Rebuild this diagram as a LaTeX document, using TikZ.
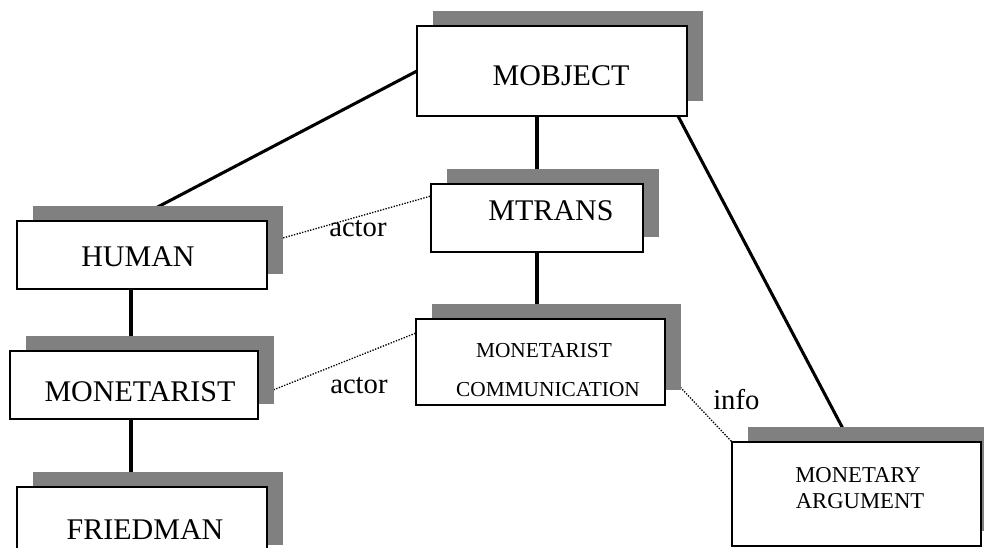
\documentclass[tikz,border=0pt]{standalone}
\usepackage{fontspec}
\setmainfont{Liberation Serif}
\usetikzlibrary{fit,backgrounds,calc}
\definecolor{shadowgray}{HTML}{808080}
\tikzset{
  x=0.75pt, y=-0.75pt,
  box/.style={draw=black, line width=1.3pt, fill=white, inner sep=0pt, outer sep=0pt},
  shadowfill/.style={fill=shadowgray, draw=none},
  conn/.style={line width=2.3pt, draw=black},
  dotline/.style={line width=1pt, dash pattern=on 1pt off 1.1pt, draw=black},
  bigtxt/.style={font=\fontsize{22.5}{27}\selectfont, anchor=base, inner sep=0pt},
  lbltxt/.style={font=\fontsize{21.5}{26}\selectfont, anchor=base west, inner sep=0pt},
  mctxt/.style={font=\fontsize{16}{19}\selectfont, anchor=base, inner sep=0pt},
  matxt/.style={font=\fontsize{17}{20}\selectfont, anchor=base, inner sep=0pt},
}
\newcommand\shadowof[1]{\fill[shadowfill] ([shift={(16,-15)}]#1.south west) rectangle ([shift={(16,-15)}]#1.north east);}
\begin{document}
\begin{tikzpicture}
\useasboundingbox (0,0) rectangle (984,548);
% boxes
\node[box, fit={(417,26) (687,116)}] (mobject) {};
\node[box, fit={(431,184) (643,252)}] (mtrans) {};
\node[box, fit={(17,221) (267,289)}] (human) {};
\node[box, fit={(10,351) (258,419)}] (monetarist) {};
\node[box, fit={(17,487) (267,560)}] (friedman) {};
\node[box, fit={(416,319) (665,405)}] (mc) {};
\node[box, fit={(732,442) (981,546)}] (ma) {};
% texts
\node[bigtxt] (tmobject) at (561,86) {MOBJECT};
\node[bigtxt] (tmtrans) at (551,221) {MTRANS};
\node[bigtxt] (thuman) at (138,267) {HUMAN};
\node[bigtxt] (tmonetarist) at (140,402) {MONETARIST};
\node[bigtxt] (tfriedman) at (145,539) {FRIEDMAN};
\node[mctxt] (tmc1) at (544,358) {MONETARIST};
\node[mctxt] (tmc2) at (548,397) {COMMUNICATION};
\node[matxt] (tma1) at (858,482) {MONETARY};
\node[matxt] (tma2) at (860,508) {ARGUMENT};
% labels
\node[lbltxt] (lactor1) at (329,237) {actor};
\node[lbltxt] (lactor2) at (330,393) {actor};
\node[lbltxt] (linfo) at (713,410) {info};
\begin{pgfonlayer}{background}
  % solid connectors
  \draw[conn] (mobject.west) -- ([shift={(-11,0)}]human.north);
  \draw[conn] (mtrans.north) -- (mtrans.north |- mobject.south);
  \draw[conn] (mtrans.south) -- (mtrans.south |- mc.north);
  \draw[conn] ([shift={(-11,0)}]human.south) -- ([shift={(-11,0)}]human.south |- monetarist.north);
  \draw[conn] ([shift={(-3,0)}]monetarist.south) -- ([shift={(-3,0)}]monetarist.south |- friedman.north);
  \draw[conn] ([shift={(-9,0)}]mobject.south east) -- ([shift={(-6.5,0)}]ma.north);
  % dotted connectors
  \draw[dotline] ([shift={(0,-12.5)}]human.east) -- ([shift={(0,-22)}]mtrans.west);
  \draw[dotline] ([shift={(0,11)}]monetarist.east) -- ([shift={(0,-29)}]mc.west);
  \draw[dotline] ([shift={(0,9)}]mc.east) -- (ma.north west);
  % shadows
  \shadowof{mobject}
  \shadowof{mtrans}
  \shadowof{human}
  \shadowof{monetarist}
  \shadowof{friedman}
  \shadowof{mc}
  \shadowof{ma}
\end{pgfonlayer}
\end{tikzpicture}
\end{document}
